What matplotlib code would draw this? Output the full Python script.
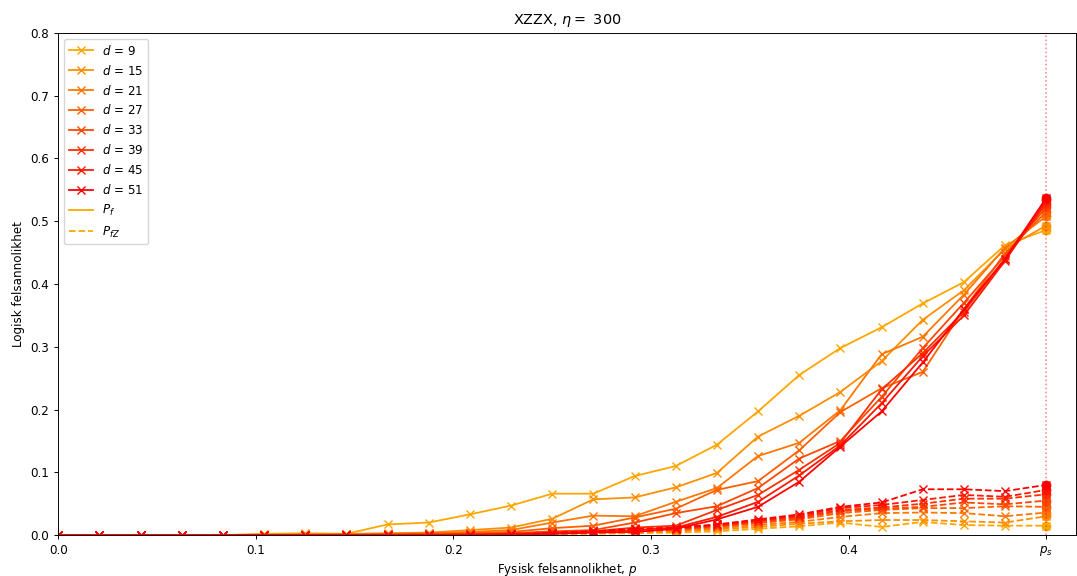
import numpy as np
import matplotlib
matplotlib.use('Agg')
import matplotlib.pyplot as plt
from matplotlib.lines import Line2D

# Figure rendered slightly smaller than defaults
scale = 0.86
plt.rcParams['font.size'] = 10 * scale
plt.rcParams['lines.linewidth'] = 1.5 * scale
plt.rcParams['lines.markersize'] = 6 * scale
plt.rcParams['axes.linewidth'] = 0.8 * scale
plt.rcParams['xtick.major.width'] = 0.8 * scale
plt.rcParams['ytick.major.width'] = 0.8 * scale
plt.rcParams['xtick.major.size'] = 3.5 * scale
plt.rcParams['ytick.major.size'] = 3.5 * scale

# Physical error rates p = k/48, k = 0..24 (p_s = 0.5 at the end)
p = np.arange(25) / 48
p_s = 0.5
distances = [9, 15, 21, 27, 33, 39, 45, 51]

# Total logical error rate P_f per code distance
pf_d9 = [0, 0, 0, 0, 0, 0.002, 0.003, 0.002, 0.017, 0.020, 0.033, 0.047, 0.066, 0.066, 0.094, 0.110, 0.144, 0.197, 0.255, 0.298, 0.331, 0.369, 0.403, 0.462, 0.486]
pf_d15 = [0, 0, 0, 0, 0, 0.001, 0.001, 0.002, 0.003, 0.004, 0.008, 0.012, 0.026, 0.057, 0.060, 0.076, 0.099, 0.157, 0.190, 0.228, 0.277, 0.343, 0.390, 0.456, 0.493]
pf_d21 = [0, 0, 0, 0, 0, 0, 0.001, 0.001, 0.002, 0.003, 0.005, 0.008, 0.020, 0.031, 0.030, 0.053, 0.075, 0.126, 0.147, 0.199, 0.288, 0.316, 0.383, 0.458, 0.508]
pf_d27 = [0, 0, 0, 0, 0, 0, 0, 0.001, 0.001, 0.002, 0.003, 0.005, 0.011, 0.015, 0.028, 0.042, 0.072, 0.086, 0.135, 0.196, 0.234, 0.260, 0.360, 0.449, 0.515]
pf_d33 = [0, 0, 0, 0, 0, 0, 0, 0, 0.001, 0.001, 0.002, 0.003, 0.006, 0.008, 0.020, 0.035, 0.046, 0.075, 0.122, 0.150, 0.220, 0.298, 0.370, 0.445, 0.522]
pf_d39 = [0, 0, 0, 0, 0, 0, 0, 0, 0, 0.001, 0.001, 0.002, 0.004, 0.006, 0.012, 0.015, 0.040, 0.064, 0.104, 0.147, 0.232, 0.290, 0.356, 0.440, 0.528]
pf_d45 = [0, 0, 0, 0, 0, 0, 0, 0, 0, 0, 0.001, 0.001, 0.003, 0.005, 0.008, 0.012, 0.029, 0.053, 0.095, 0.143, 0.210, 0.285, 0.350, 0.437, 0.533]
pf_d51 = [0, 0, 0, 0, 0, 0, 0, 0, 0, 0, 0, 0.001, 0.002, 0.004, 0.005, 0.010, 0.025, 0.045, 0.085, 0.141, 0.197, 0.275, 0.360, 0.440, 0.537]

# Logical Z error rate P_fZ per code distance
pfz_d9 = [0, 0, 0, 0, 0, 0, 0, 0, 0, 0, 0, 0, 0.001, 0.002, 0.003, 0.004, 0.006, 0.010, 0.014, 0.020, 0.013, 0.021, 0.016, 0.015, 0.015]
pfz_d15 = [0, 0, 0, 0, 0, 0, 0, 0, 0, 0, 0, 0, 0.002, 0.003, 0.004, 0.006, 0.009, 0.013, 0.018, 0.022, 0.024, 0.024, 0.022, 0.020, 0.030]
pfz_d21 = [0, 0, 0, 0, 0, 0, 0, 0, 0, 0, 0, 0, 0.002, 0.004, 0.006, 0.007, 0.011, 0.016, 0.021, 0.029, 0.035, 0.036, 0.035, 0.030, 0.036]
pfz_d27 = [0, 0, 0, 0, 0, 0, 0, 0, 0, 0, 0, 0.001, 0.003, 0.004, 0.007, 0.008, 0.013, 0.019, 0.025, 0.035, 0.040, 0.043, 0.043, 0.046, 0.045]
pfz_d33 = [0, 0, 0, 0, 0, 0, 0, 0, 0, 0, 0, 0.001, 0.003, 0.005, 0.008, 0.009, 0.014, 0.020, 0.027, 0.038, 0.042, 0.045, 0.052, 0.049, 0.055]
pfz_d39 = [0, 0, 0, 0, 0, 0, 0, 0, 0, 0, 0, 0.001, 0.003, 0.005, 0.009, 0.010, 0.015, 0.022, 0.029, 0.040, 0.044, 0.050, 0.058, 0.058, 0.065]
pfz_d45 = [0, 0, 0, 0, 0, 0, 0, 0, 0, 0, 0, 0.001, 0.003, 0.006, 0.009, 0.011, 0.016, 0.023, 0.031, 0.043, 0.048, 0.056, 0.064, 0.061, 0.072]
pfz_d51 = [0, 0, 0, 0, 0, 0, 0, 0, 0, 0, 0, 0.001, 0.004, 0.006, 0.010, 0.012, 0.017, 0.025, 0.033, 0.045, 0.052, 0.073, 0.073, 0.070, 0.080]

pf_all = [pf_d9, pf_d15, pf_d21, pf_d27, pf_d33, pf_d39, pf_d45, pf_d51]
pfz_all = [pfz_d9, pfz_d15, pfz_d21, pfz_d27, pfz_d33, pfz_d39, pfz_d45, pfz_d51]

# orange -> red
colors = [(1.0, g, 0.0) for g in np.linspace(0.65, 0.0, len(distances))]

fig, ax = plt.subplots(figsize=(10.77, 5.76), dpi=100)
fig.subplots_adjust(left=0.054, right=0.999, top=0.943, bottom=0.071)

for d, pf, pfz, c in zip(distances, pf_all, pfz_all, colors):
    ax.plot(p, pf, '-', marker='x', color=c)
    ax.plot(p, pfz, '--', marker='x', color=c)
    # last point at p_s with filled circle
    ax.plot(p[-1], pf[-1], 'o', color=c, markersize=6)
    ax.plot(p[-1], pfz[-1], 'o', color=c, markersize=6)

ax.axvline(p_s, color='red', linestyle=':', alpha=0.5, linewidth=1.1)

ax.set_xlim(0, 0.515)
ax.set_ylim(0, 0.8)
ax.set_xticks([0, 0.1, 0.2, 0.3, 0.4, p_s])
ax.set_xticklabels(['0.0', '0.1', '0.2', '0.3', '0.4', '$p_s$'])
ax.set_xlabel('Fysisk felsannolikhet, $p$', labelpad=2)
ax.set_ylabel('Logisk felsannolikhet')
ax.set_title(r'XZZX, $\eta =$ 300')

handles = [Line2D([0], [0], color=c, marker='x', label=f'$d$ = {d}') for d, c in zip(distances, colors)]
handles.append(Line2D([0], [0], color=colors[0], linestyle='-', label='$P_f$'))
handles.append(Line2D([0], [0], color=colors[0], linestyle='--', label='$P_{fZ}$'))
ax.legend(handles=handles, loc='upper left')

fig.savefig('out.png', dpi=100)
